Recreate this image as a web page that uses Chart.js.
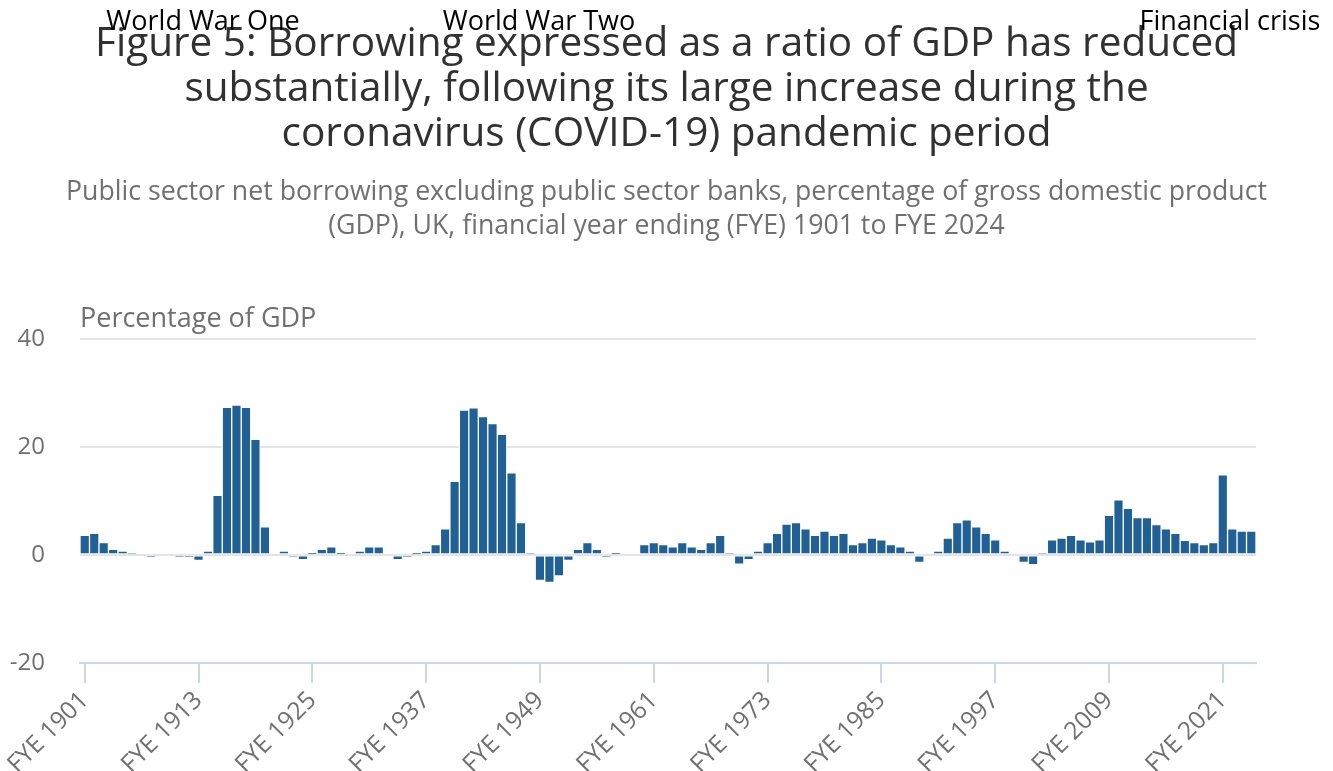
<!DOCTYPE html>
<html>
<head>
<meta charset="utf-8">
<script src="https://cdn.jsdelivr.net/npm/chart.js@4/dist/chart.umd.min.js"></script>
<style>
  html, body { margin: 0; padding: 0; background: #fff; }
  #wrap { width: 1333px; height: 771px; position: relative; }
</style>
</head>
<body>
<div id="wrap"><canvas id="borrowChart" width="1333" height="771"></canvas></div>
<script>
// financial years 1901..2024
const years = [];
for (let y = 1901; y <= 2024; y++) years.push("FYE " + y);

// PSNB ex, % of GDP
const borrowing = [
  3.6, 4.0, 2.3, 1.05, 0.7, 0.25, 0, -0.5, 0, 0,
  -0.4, -0.4, -1.0, 0.7, 11.0, 27.3, 27.7, 27.3, 21.4, 5.2,
  0, 0.7, -0.3, -0.9, 0.3, 1.05, 1.5, 0.3, 0, 0.7,
  1.5, 1.5, 0, -0.9, -0.5, 0.3, 0.7, 1.9, 4.8, 13.6,
  26.8, 27.2, 25.6, 24.3, 22.3, 15.2, 6.0, 0.25, -4.7, -5.1,
  -3.9, -1.0, 1.05, 2.3, 1.05, -0.5, 0.3, 0, 0, 1.9,
  2.3, 1.9, 1.5, 2.3, 1.5, 1.05, 2.3, 3.6, 0.25, -1.7,
  -0.9, 0.7, 2.3, 4.0, 5.7, 6.0, 4.8, 3.6, 4.4, 3.6,
  4.0, 1.9, 2.3, 3.1, 2.8, 1.9, 1.5, 0.7, -1.4, 0,
  0.7, 3.1, 6.0, 6.5, 5.2, 4.0, 2.8, 0.7, 0, -1.4,
  -1.8, 0.25, 2.8, 3.1, 3.6, 2.8, 2.4, 2.8, 7.3, 10.2,
  8.6, 6.9, 6.9, 5.6, 4.8, 4.0, 2.7, 2.3, 1.9, 2.3,
  14.8, 4.8, 4.4, 4.4
];

const yTicks = [-20, 0, 20, 40];
const labelEvery = 12;

// event labels, they sit up on the title in the original
const events = [
  { text: "World War One", x: 203 },
  { text: "World War Two", x: 539 },
  { text: "Financial crisis", x: 1230 }
];

const extras = {
  id: "extras",
  afterDraw(chart) {
    const ctx = chart.ctx;
    const area = chart.chartArea;
    ctx.save();
    ctx.font = "27px 'Open Sans'";
    ctx.fillStyle = "#707071";
    ctx.textAlign = "left";
    ctx.textBaseline = "middle";
    ctx.fillText("Percentage of GDP", area.left, area.top - 19);

    ctx.font = "27px 'Open Sans'";
    ctx.fillStyle = "#000";
    ctx.textAlign = "center";
    ctx.textBaseline = "middle";
    events.forEach(e => ctx.fillText(e.text, e.x, 22));
    ctx.restore();
  }
};

const ctx = document.getElementById("borrowChart").getContext("2d");
new Chart(ctx, {
  type: "bar",
  data: {
    labels: years,
    datasets: [{
      label: "Borrowing",
      data: borrowing,
      backgroundColor: "#206095",
      borderColor: "#ffffff",
      borderWidth: 1,
      borderSkipped: false,
      barPercentage: 1,
      categoryPercentage: 1
    }]
  },
  options: {
    responsive: false,
    animation: false,
    devicePixelRatio: 1,
    layout: { padding: 0 },
    plugins: {
      legend: { display: false },
      tooltip: { enabled: false },
      title: {
        display: true,
        text: [
          "Figure 5: Borrowing expressed as a ratio of GDP has reduced",
          "substantially, following its large increase during the",
          "coronavirus (COVID-19) pandemic period"
        ],
        color: "#323132",
        font: { family: "Open Sans", size: 40.5, weight: "normal", lineHeight: 1.11 },
        padding: { top: 22, bottom: 19 }
      },
      subtitle: {
        display: true,
        text: [
          "Public sector net borrowing excluding public sector banks, percentage of gross domestic product",
          "(GDP), UK, financial year ending (FYE) 1901 to FYE 2024"
        ],
        color: "#707071",
        font: { family: "Open Sans", size: 26.7, lineHeight: 1.27 },
        padding: { top: 0, bottom: 95 }
      }
    },
    scales: {
      x: {
        afterFit: axis => {
          axis.height = 108;
          axis.paddingLeft = 0;
          axis.paddingRight = 77;
        },
        grid: {
          drawOnChartArea: false,
          offset: false,
          color: "#ccd6eb",
          lineWidth: 2,
          tickLength: 20
        },
        border: { display: true, color: "#ccd6eb", width: 2 },
        ticks: {
          autoSkip: false,
          minRotation: 45,
          maxRotation: 45,
          color: "#707071",
          font: { family: "Open Sans", size: 24.5 },
          padding: 3,
          callback: function (val, i) {
            return i % labelEvery === 0 ? years[i] : null;
          }
        }
      },
      y: {
        min: -20,
        max: 40,
        afterBuildTicks: axis => { axis.ticks = yTicks.map(v => ({ value: v })); },
        afterFit: axis => { axis.width = 80; },
        grid: { color: "#e4e4e4", lineWidth: 2, drawTicks: false },
        border: { display: false },
        ticks: {
          color: "#707071",
          font: { family: "Open Sans", size: 24 },
          padding: 35
        }
      }
    }
  },
  plugins: [extras]
});
</script>
</body>
</html>
